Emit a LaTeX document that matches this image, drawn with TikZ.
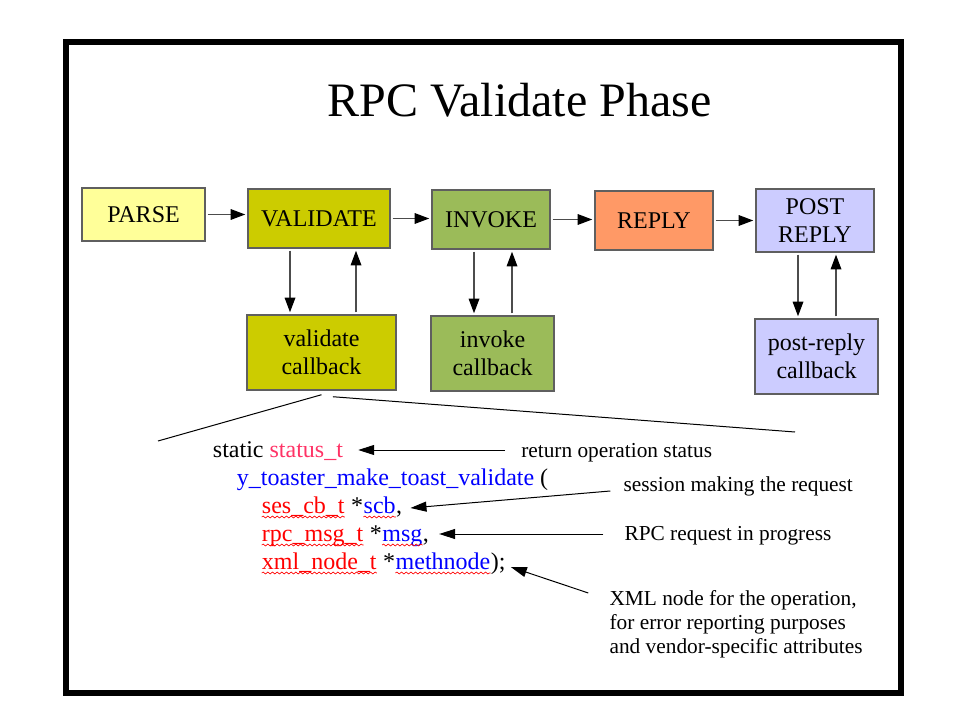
\documentclass[tikz,border=0pt]{standalone}
\usepackage{fontspec}
\setmainfont{Liberation Serif}
\usetikzlibrary{arrows.meta,positioning,calc,decorations.pathmorphing}
\definecolor{parseyellow}{HTML}{FFFF99}
\definecolor{validateolive}{HTML}{CCCC00}
\definecolor{invokegreen}{HTML}{9BBB59}
\definecolor{replyorange}{HTML}{FF9966}
\definecolor{postlilac}{HTML}{CCCCFF}
\definecolor{edgegray}{HTML}{5F5F5F}
\definecolor{typered}{HTML}{FF0000}
\definecolor{statuspink}{HTML}{FF3366}
\definecolor{identblue}{HTML}{0000FF}

\begin{document}
\begin{tikzpicture}[
  x=.75pt,y=-.75pt,
  font=\fontsize{18}{21}\selectfont,
  phase/.style={draw=edgegray,line width=1.1pt,align=center,inner sep=2pt},
  flow/.style={-{Triangle[length=11pt,width=8pt,color=black]},line width=.9pt,
               draw=black!70,shorten <=1.5pt,shorten >=1.5pt},
  note/.style={font=\fontsize{16}{18}\selectfont,anchor=base west,inner sep=0pt},
  code/.style={anchor=base west,inner sep=0pt},
  pointer/.style={-{Triangle[length=12pt,width=7.5pt]},line width=.75pt},
  zoomline/.style={line width=.75pt},
  squiggle/.style={draw=typered,line width=.5pt,decorate,
                   decoration={snake,amplitude=.7pt,segment length=3.5pt}}
]
\useasboundingbox (0,0) rectangle (960,720);
\draw[line width=4.5pt] (66,42) rectangle (901,693);
\node[font=\fontsize{36}{43}\selectfont,anchor=base] (title) at (519.5,117) {RPC Validate Phase};

% Phases
\node[phase,fill=parseyellow,minimum width=92.25pt,minimum height=39.75pt] (parse) at (143.5,214.5) {PARSE};
\node[phase,fill=validateolive,minimum width=106.5pt,minimum height=44.25pt] (validate) at (319,218.5) {VALIDATE};
\node[phase,fill=invokegreen,minimum width=88.5pt,minimum height=44.25pt] (invoke) at (491,219.5) {INVOKE};
\node[phase,fill=replyorange,minimum width=88.5pt,minimum height=44.25pt] (reply) at (654,220.5) {REPLY};
\node[phase,fill=postlilac,minimum width=88.5pt,minimum height=47.25pt] (postreply) at (815,220.5) {POST\\REPLY};

% Callbacks
\node[phase,fill=validateolive,minimum width=111.75pt,minimum height=56.25pt] (valcb) at (321.5,352.5) {validate\\callback};
\node[phase,fill=invokegreen,minimum width=92.25pt,minimum height=56.25pt] (invcb) at (492.5,353.5) {invoke\\callback};
\node[phase,fill=postlilac,minimum width=92.25pt,minimum height=56.25pt] (postcb) at (816.5,356.5) {post-reply\\callback};

\draw[flow] (parse.east) -- (parse.east -| validate.west);
\draw[flow] (validate.east) -- (validate.east -| invoke.west);
\draw[flow] (invoke.east) -- (invoke.east -| reply.west);
\draw[flow] (reply.east) -- (reply.east -| postreply.west);
\foreach \top/\cb/\dn/\up in {validate/valcb/-21.75/27.75,invoke/invcb/-12.75/15.75,postreply/postcb/-12.75/15.75}{
  \draw[flow] ([xshift=\dn pt]\top.south) -- ([xshift=\dn pt]\top.south |- \cb.north);
  \draw[flow] ([xshift=\up pt]\top.south |- \cb.north) -- ([xshift=\up pt]\top.south);
}

% Zoom into the callback
\coordinate (codeleft) at (158,441);
\coordinate (coderight) at (795,432);
\draw[zoomline] ([yshift=-3pt]valcb.south) -- (codeleft);
\draw[zoomline] ([xshift=8.6pt,yshift=-4.5pt]valcb.south) -- (coderight);

% Prototype
\node[code] (static) at (212.7,457) {static \textcolor{statuspink}{status\_t}};
\node[code,text=identblue] (fname) at (236.7,485) {y\_toaster\_make\_toast\_validate \textcolor{black}{(}};
\node[code,text=typered] (sestype) at (261.7,513) {ses\_cb\_t};
\node[code] (scbstar) at (sestype.base east) {\ *};
\node[code,text=identblue] (scbvar) at (scbstar.base east) {scb};
\node[code] (scbend) at (scbvar.base east) {,};
\node[code,text=typered] (rpctype) at (261.7,541) {rpc\_msg\_t};
\node[code] (msgstar) at (rpctype.base east) {\ *};
\node[code,text=identblue] (msgvar) at (msgstar.base east) {msg};
\node[code] (msgend) at (msgvar.base east) {,};
\node[code,text=typered] (xmltype) at (261.7,569) {xml\_node\_t};
\node[code] (methstar) at (xmltype.base east) {\ *};
\node[code,text=identblue] (methvar) at (methstar.base east) {methnode};
\node[code] (methend) at (methvar.base east) {);};
\foreach \w in {sestype,scbvar,rpctype,msgvar,xmltype,methvar}
  \draw[squiggle] ([yshift=-3pt]\w.base west) -- ([yshift=-3pt]\w.base east);

% Notes
\node[note] (retnote) at (521,457) {return operation status};
\node[note] (sessnote) at (623.3,491) {session making the request};
\node[note] (rpcnote) at (624.3,540) {RPC request in progress};
\node[note,anchor=north west,align=left] (xmlnote) at (609.3,590)
  {XML node for the operation,\\for error reporting purposes\\and vendor-specific attributes};

\draw[pointer] ($(retnote.base west)+(-16,-7)$) -- ($(static.base east)+(15,-7)$);
\draw[pointer] ($(sessnote.base west)+(-13,0)$) -- ($(scbend.base east)+(8,-5)$);
\draw[pointer] ($(rpcnote.base west)+(-21,-6)$) -- ($(msgend.base east)+(10,-7)$);
\draw[pointer] ($(xmlnote.north west)+(-21,3)$) -- ($(methend.base east)+(5,-2)$);
\end{tikzpicture}
\end{document}
